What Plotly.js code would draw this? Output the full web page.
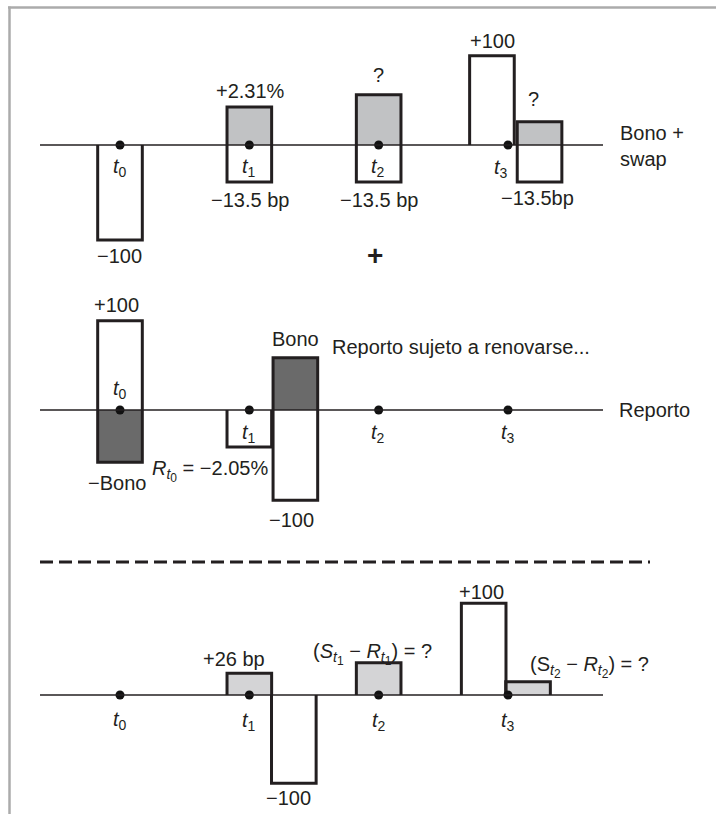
<!DOCTYPE html>
<html>
<head>
<meta charset="utf-8">
<script src="https://cdn.plot.ly/plotly-3.0.1.min.js"></script>
<style>html,body{margin:0;padding:0;background:#fff;}#chart{width:716px;height:814px;}</style>
</head>
<body>
<div id="chart"></div>
<script>
// ---------- DATA ----------
const timeIndex = [0, 1, 2, 3];
const timeLabels = ['<i>t</i><sub>0</sub>', '<i>t</i><sub>1</sub>', '<i>t</i><sub>2</sub>', '<i>t</i><sub>3</sub>'];

// Panel 1: Bono + swap (drawn heights, -100 = full notional)
const bsTime  = [0, 1, 1, 2, 2, 3, 3, 3];
const bsValue = [-100, 40, -39, 53, -39, 94, 24.5, -39];
const bsLabels = ['−100', '+2.31%', '−13.5 bp', '?', '−13.5 bp', '+100', '?', '−13.5bp'];

// Panel 2: Reporto
const rpTime  = [0, 0, 1, 1, 1];
const rpValue = [94, -55, -39, 55, -95];
const SS = n => '<sub><i>t</i><sub><span style="font-size:12px">' + n + '</span></sub></sub>';
const rpLabels = ['+100', '−Bono', '<i>R</i>' + SS(0) + ' = −2.05%', 'Bono', '−100'];

// Panel 3: resultado neto
const ntTime  = [1, 1, 2, 3, 3];
const ntValue = [23, -93, 34, 96.5, 14];
const ntLabels = ['+26 bp', '−100', '(<i>S</i>' + SS(1) + ' − <i>R</i>' + SS(1) + ') = ?', '+100',
                  '(S' + SS(2) + ' − <i>R</i>' + SS(2) + ') = ?'];

const rowNames = ['Bono +<br>swap', 'Reporto'];
const noteText = 'Reporto sujeto a renovarse...';

// ---------- STYLE / LAYOUT ----------
const INK = '#231f20';
const LIGHT1 = '#c1c2c4', LIGHT3 = '#d4d4d6', DARK = '#6a6a6a', WHITE = '#ffffff';
const BW = 0.345;            // bar width in time units
const PXU = 129.33;          // px per time unit
const KY = 0.95;             // px per value unit
const L = 40, R = 113, W = 716, H = 814;
const zeroPx = [145, 410, 695];

const bsShift = [0, 0, 0, 0, 0, -0.124, 0.244, 0.244];
const bsFill  = [WHITE, LIGHT1, WHITE, LIGHT1, WHITE, WHITE, LIGHT1, WHITE];
const rpShift = [0, 0, 0, 0.356, 0.356];
const rpFill  = [WHITE, DARK, WHITE, DARK, WHITE];
const ntShift = [0, 0.344, 0, -0.188, 0.155];
const ntFill  = [LIGHT3, WHITE, LIGHT3, WHITE, LIGHT3];

const panels = [
  {t: bsTime, v: bsValue, s: bsShift, f: bsFill, ax: 'y'},
  {t: rpTime, v: rpValue, s: rpShift, f: rpFill, ax: 'y2'},
  {t: ntTime, v: ntValue, s: ntShift, f: ntFill, ax: 'y3'}
];

const traces = [];
panels.forEach(p => {
  const xs = p.t.map((t, i) => t + p.s[i]);
  traces.push({
    type: 'bar', x: xs, y: p.v, width: xs.map(() => BW), yaxis: p.ax,
    marker: {color: p.f, line: {width: 0}}, hoverinfo: 'skip', showlegend: false
  });
  const ox = [], oy = [];
  xs.forEach((x, i) => {
    const a = x - BW / 2, b = x + BW / 2;
    ox.push(a, a, b, b, null);
    oy.push(0, p.v[i], p.v[i], 0, null);
  });
  traces.push({
    type: 'scatter', mode: 'lines', x: ox, y: oy, yaxis: p.ax,
    line: {color: INK, width: 3}, hoverinfo: 'skip', showlegend: false, connectgaps: false
  });
});
panels.forEach(p => {
  traces.push({
    type: 'scatter', mode: 'markers', x: timeIndex, y: timeIndex.map(() => 0), yaxis: p.ax,
    marker: {color: '#111', size: 9}, hoverinfo: 'skip', showlegend: false
  });
});

function yax(z) {
  return {
    range: [-(H - z) / KY, z / KY], domain: [0, 1], showgrid: false, showticklabels: false,
    ticks: '', showline: false, zeroline: false, fixedrange: true
  };
}

const FONT = {family: '"Liberation Sans", Arial, sans-serif', size: 20, color: INK};
function A(px, py, text, extra) {
  return Object.assign({
    xref: 'paper', yref: 'paper', x: (px - L) / (W - L - R), y: 1 - py / H,
    text: text, showarrow: false, xanchor: 'center', yanchor: 'middle', font: FONT
  }, extra || {});
}

const ann = [];
// time labels
const tlPos = [
  [[120, 168], [249, 168], [378, 168], [501, 169]],
  [[120, 389], [249, 433], [378, 433], [508, 433]],
  [[120, 720], [249, 721], [379, 721], [508, 721]]
];
tlPos.forEach(row => row.forEach((p, i) => ann.push(A(p[0], p[1], timeLabels[i]))));
// panel 1 labels
const bsPos = [[119, 256], [250, 91], [250, 200], [378, 75], [379, 200], [492, 41], [533, 99], [537, 198]];
bsLabels.forEach((t, i) => ann.push(A(bsPos[i][0], bsPos[i][1], t)));
ann.push(A(618, 146, rowNames[0], {xanchor: 'left', align: 'left'}));
ann.push(A(375, 256, '<b>+</b>', {font: Object.assign({}, FONT, {size: 28})}));
// panel 2 labels
ann.push(A(117, 305, rpLabels[0]));
ann.push(A(117, 483, rpLabels[1]));
ann.push(A(270, 471, rpLabels[2], {xanchor: 'right'}));
ann.push(A(295, 339, rpLabels[3]));
ann.push(A(291, 520, rpLabels[4]));
ann.push(A(330, 347, noteText, {xanchor: 'left'}));
ann.push(A(617, 410, rowNames[1], {xanchor: 'left'}));
// panel 3 labels
ann.push(A(234, 659, ntLabels[0]));
ann.push(A(288, 798, ntLabels[1]));
ann.push(A(373, 654, ntLabels[2]));
ann.push(A(481, 592, ntLabels[3]));
ann.push(A(589, 667, ntLabels[4]));

const pw = W - L - R;
const shapes = [
  {type: 'line', xref: 'paper', yref: 'paper', x0: 0, x1: (650 - L) / pw, y0: 1 - 562 / H, y1: 1 - 562 / H,
   line: {color: INK, width: 3, dash: '13px,6px'}},
  {type: 'line', xref: 'paper', yref: 'paper', x0: (8 - L) / pw, x1: (716 - L) / pw, y0: 1 - 7.5 / H, y1: 1 - 7.5 / H,
   line: {color: '#ababab', width: 2.5}},
  {type: 'line', xref: 'paper', yref: 'paper', x0: (9.5 - L) / pw, x1: (9.5 - L) / pw, y0: 1 - 6.5 / H, y1: 0,
   line: {color: '#ababab', width: 2.5}}
];
// time axis lines (baseline of each row), drawn above the bars
['y', 'y2', 'y3'].forEach(a => shapes.push({
  type: 'line', xref: 'paper', yref: a, x0: 0, x1: 1, y0: 0, y1: 0, layer: 'above',
  line: {color: INK, width: 1.4}
}));

const layout = {
  width: W, height: H, margin: {l: L, r: R, t: 0, b: 0},
  paper_bgcolor: '#fff', plot_bgcolor: 'rgba(0,0,0,0)', barmode: 'overlay', showlegend: false,
  xaxis: {range: [-80 / PXU, (pw - 80) / PXU], showgrid: false, zeroline: false, showticklabels: false,
          ticks: '', showline: false, fixedrange: true},
  yaxis: yax(zeroPx[0]),
  yaxis2: Object.assign(yax(zeroPx[1]), {overlaying: 'y'}),
  yaxis3: Object.assign(yax(zeroPx[2]), {overlaying: 'y'}),
  annotations: ann, shapes: shapes, font: FONT
};

Plotly.newPlot('chart', traces, layout, {staticPlot: true, displayModeBar: false});
</script>
</body>
</html>
